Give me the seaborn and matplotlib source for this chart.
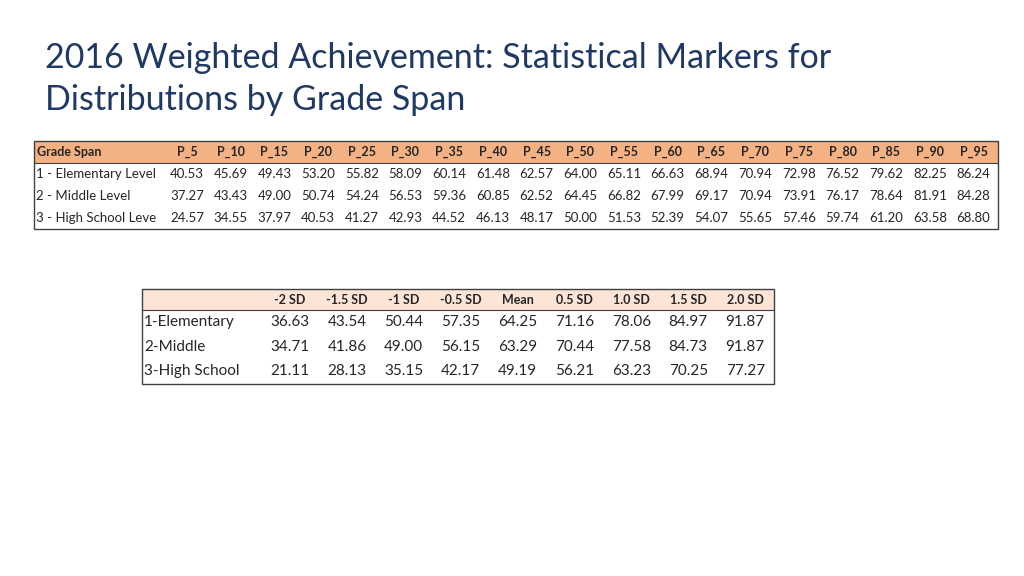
import matplotlib
matplotlib.use("Agg")
import matplotlib.pyplot as plt
import seaborn as sns
from matplotlib.patches import Rectangle

sns.set_theme(style="white", font="Lato")

# ── Data ─────────────────────────────────────────────────
title_lines = ["2016 Weighted Achievement: Statistical Markers for",
               "Distributions by Grade Span"]

pct_cols = ["P_5", "P_10", "P_15", "P_20", "P_25", "P_30", "P_35", "P_40", "P_45", "P_50",
            "P_55", "P_60", "P_65", "P_70", "P_75", "P_80", "P_85", "P_90", "P_95"]
pct_rows = ["1 - Elementary Level", "2 - Middle Level", "3 - High School Leve"]
pct_elem = [40.53, 45.69, 49.43, 53.20, 55.82, 58.09, 60.14, 61.48, 62.57, 64.00,
            65.11, 66.63, 68.94, 70.94, 72.98, 76.52, 79.62, 82.25, 86.24]
pct_mid = [37.27, 43.43, 49.00, 50.74, 54.24, 56.53, 59.36, 60.85, 62.52, 64.45,
           66.82, 67.99, 69.17, 70.94, 73.91, 76.17, 78.64, 81.91, 84.28]
pct_high = [24.57, 34.55, 37.97, 40.53, 41.27, 42.93, 44.52, 46.13, 48.17, 50.00,
            51.53, 52.39, 54.07, 55.65, 57.46, 59.74, 61.20, 63.58, 68.80]

sd_cols = ["-2 SD", "-1.5 SD", "-1 SD", "-0.5 SD", "Mean", "0.5 SD", "1.0 SD", "1.5 SD", "2.0 SD"]
sd_rows = ["1-Elementary", "2-Middle", "3-High School"]
sd_elem = [36.63, 43.54, 50.44, 57.35, 64.25, 71.16, 78.06, 84.97, 91.87]
sd_mid = [34.71, 41.86, 49.00, 56.15, 63.29, 70.44, 77.58, 84.73, 91.87]
sd_high = [21.11, 28.13, 35.15, 42.17, 49.19, 56.21, 63.23, 70.25, 77.27]

# ── Figure in pixel coordinates ──────────────────────────
fig = plt.figure(figsize=(10.24, 5.76), dpi=100)
ax = fig.add_axes([0, 0, 1, 1])
ax.set_xlim(0, 1024)
ax.set_ylim(576, 0)
ax.axis("off")

title_color = "#1F3864"
for i, line in enumerate(title_lines):
    ax.text(45, 58 + i * 42, line, fontsize=24.5, color=title_color, va="center", ha="left")


def draw_table(x0, x1, label_w, col_c0, col_step, head_y, head_h, row_h,
               cols, rows, values, head_color, head_fs, body_fs, label_head=""):
    y_end = head_y + head_h + row_h * len(rows)
    ax.add_patch(Rectangle((x0, head_y), x1 - x0, head_h, facecolor=head_color,
                           edgecolor="none"))
    ax.add_patch(Rectangle((x0, head_y), x1 - x0, y_end - head_y, facecolor="none",
                           edgecolor="#404040", lw=1))
    ax.plot([x0, x1], [head_y + head_h] * 2, color="#404040", lw=0.8)
    yh = head_y + head_h / 2
    if label_head:
        ax.text(x0 + 3, yh, label_head, fontsize=head_fs, fontweight="bold",
                va="center", ha="left")
    for j, c in enumerate(cols):
        ax.text(col_c0 + j * col_step, yh, c, fontsize=head_fs, fontweight="bold",
                va="center", ha="center")
    for i, (r, vals) in enumerate(zip(rows, values)):
        yr = head_y + head_h + row_h * (i + 0.5)
        ax.text(x0 + 2, yr, r, fontsize=body_fs, va="center", ha="left")
        for j, v in enumerate(vals):
            ax.text(col_c0 + j * col_step, yr, f"{v:.2f}", fontsize=body_fs,
                    va="center", ha="center")


draw_table(34, 998, 128, 187, 43.7, 141, 22, 22, pct_cols, pct_rows,
           [pct_elem, pct_mid, pct_high], "#F4B183", 9, 9.5, "Grade Span")
draw_table(142, 774, 130, 290, 56.9, 289, 21, 24.5, sd_cols, sd_rows,
           [sd_elem, sd_mid, sd_high], "#FCE4D6", 9, 11)

fig.savefig("out.png", dpi=100)
